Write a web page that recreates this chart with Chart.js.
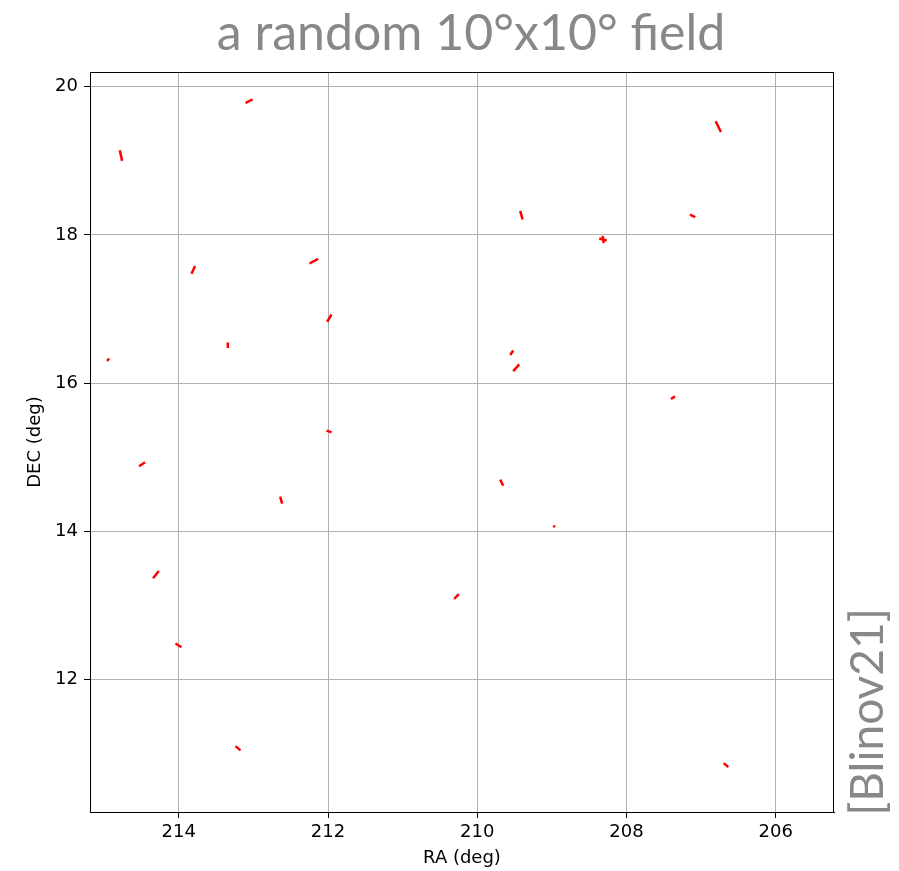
<!DOCTYPE html>
<html lang="en">
  <head>
    <meta charset="UTF-8" />
    <title>a random 10°x10° field</title>
    <script src="https://cdn.jsdelivr.net/npm/chart.js"></script>
    <style>
      body { margin: 0; background: #fff; }
      canvas { display: block; }
    </style>
  </head>
  <body>
    <canvas id="fieldChart" width="899" height="871"></canvas>

    <script>
      // Segmentos (RA/DEC de cada extremo)
      const segRa1 = [213.106, 214.791, 213.830, 212.248, 212.012, 209.425, 206.806, 207.150, 208.366, 208.320,
        214.961, 213.343, 212.020, 214.532, 212.642, 209.559, 209.519, 209.693, 208.980, 207.405,
        214.345, 214.044, 213.240, 210.310, 206.698];
      const segDec1 = [19.780, 19.143, 17.476, 17.615, 16.829, 18.325, 19.534, 18.275, 17.952, 17.988,
        16.299, 16.550, 15.360, 14.879, 14.470, 16.380, 16.164, 14.699, 14.080, 15.787,
        13.369, 12.489, 11.105, 13.092, 10.876];
      const segRa2 = [213.012, 214.760, 213.782, 212.133, 211.953, 209.393, 206.735, 207.079, 208.267, 208.307,
        214.934, 213.343, 211.953, 214.452, 212.615, 209.519, 209.438, 209.653, 208.960, 207.351,
        214.268, 213.964, 213.173, 210.247, 206.637];
      const segDec2 = [19.830, 18.999, 17.580, 17.678, 16.927, 18.208, 19.389, 18.240, 17.925, 17.890,
        16.334, 16.474, 15.337, 14.933, 14.376, 16.442, 16.253, 14.617, 14.059, 15.822,
        13.466, 12.439, 11.047, 13.154, 10.822];

      const raTicks = [206, 208, 210, 212, 214];
      const decTicks = [12, 14, 16, 18, 20];
      const raRange = [205.22, 215.19];
      const decRange = [10.216, 20.198];

      const datasets = segRa1.map((ra, i) => ({
        data: [
          { x: ra, y: segDec1[i] },
          { x: segRa2[i], y: segDec2[i] },
        ],
        showLine: true,
        borderColor: "#ff0000",
        borderWidth: 2.5,
        pointRadius: 0,
        borderCapStyle: "butt",
      }));

      // Título, marco y etiqueta lateral
      const decoPlugin = {
        id: "deco",
        afterDraw(chart) {
          const { ctx, chartArea } = chart;
          ctx.save();
          ctx.strokeStyle = "#000";
          ctx.lineWidth = 1;
          ctx.strokeRect(chartArea.left + 0.5, chartArea.top + 0.5,
            chartArea.right - chartArea.left - 1, chartArea.bottom - chartArea.top);

          ctx.fillStyle = "#888888";
          ctx.font = "50px Lato";
          ctx.textAlign = "center";
          ctx.textBaseline = "alphabetic";
          ctx.fillText("a random 10°x10° field", 471, 50);

          ctx.font = "46px Lato";
          ctx.translate(883, 712);
          ctx.rotate(-Math.PI / 2);
          ctx.fillText("[Blinov21]", 0, 0);
          ctx.restore();
        },
      };

      const tickFont = { family: "DejaVu Sans", size: 18 };

      new Chart(document.getElementById("fieldChart"), {
        type: "scatter",
        data: { datasets },
        options: {
          responsive: false,
          animation: false,
          layout: { padding: { left: 0, right: 65, top: 72, bottom: 0 } },
          plugins: {
            legend: { display: false },
            tooltip: { enabled: false },
          },
          scales: {
            x: {
              min: raRange[0],
              max: raRange[1],
              reverse: true,
              afterBuildTicks: (s) => { s.ticks = raTicks.map((v) => ({ value: v })); },
              afterFit: (s) => { s.height = 59; },
              ticks: { color: "#000", font: tickFont, padding: 4 },
              grid: { color: "#b0b0b0", lineWidth: 1, tickColor: "#000", tickLength: 6 },
              border: { color: "#000", width: 1 },
              title: { display: true, text: "RA (deg)", color: "#000", font: tickFont, padding: { top: 2, bottom: 2 } },
            },
            y: {
              min: decRange[0],
              max: decRange[1],
              afterBuildTicks: (s) => { s.ticks = decTicks.map((v) => ({ value: v })); },
              afterFit: (s) => { s.width = 90; },
              ticks: { color: "#000", font: tickFont, padding: 6 },
              grid: { color: "#b0b0b0", lineWidth: 1, tickColor: "#000", tickLength: 6 },
              border: { color: "#000", width: 1 },
              title: { display: true, text: "DEC (deg)", color: "#000", font: tickFont, padding: { top: 25, bottom: 0 } },
            },
          },
        },
        plugins: [decoPlugin],
      });
    </script>
  </body>
</html>
